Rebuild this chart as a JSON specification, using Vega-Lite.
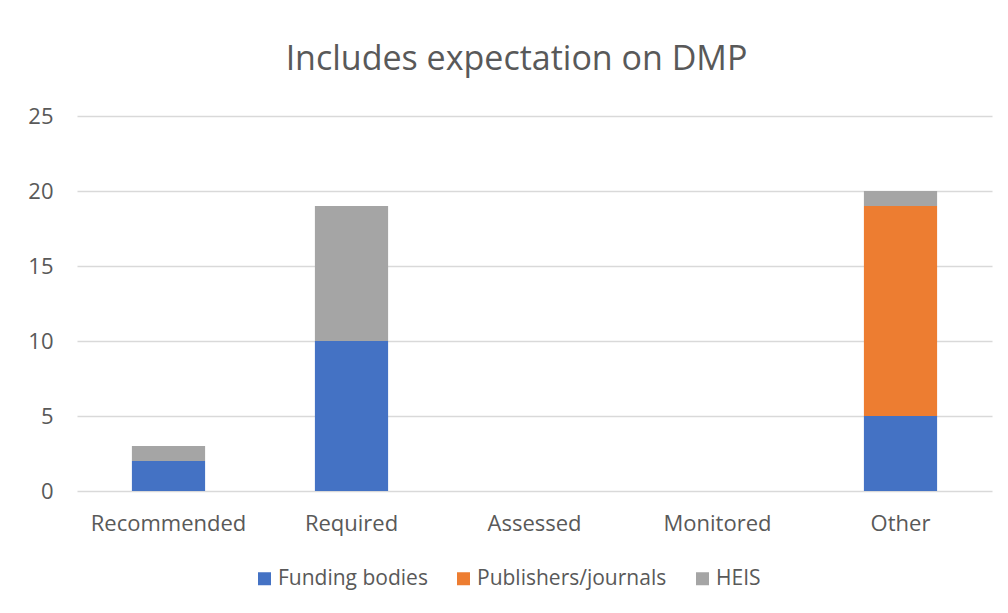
{
  "$schema": "https://vega.github.io/schema/vega-lite/v6.json",
  "width": 915,
  "height": 375,
  "autosize": {"type": "none"},
  "padding": {"left": 77, "top": 116, "right": 16, "bottom": 122},
  "background": "white",
  "title": {
    "text": "Includes expectation on DMP",
    "font": "Open Sans",
    "fontSize": 34,
    "fontWeight": "normal",
    "color": "#595959",
    "anchor": "middle",
    "baseline": "alphabetic",
    "offset": 1,
    "dx": -18
  },
  "data": {
    "values": [
      {"category": "Recommended", "series": "Funding bodies", "rank": 1, "value": 2},
      {"category": "Recommended", "series": "HEIS", "rank": 3, "value": 1},
      {"category": "Required", "series": "Funding bodies", "rank": 1, "value": 10},
      {"category": "Required", "series": "HEIS", "rank": 3, "value": 9},
      {"category": "Other", "series": "Funding bodies", "rank": 1, "value": 5},
      {"category": "Other", "series": "Publishers/journals", "rank": 2, "value": 14},
      {"category": "Other", "series": "HEIS", "rank": 3, "value": 1}
    ]
  },
  "mark": {"type": "bar"},
  "encoding": {
    "x": {
      "field": "category",
      "type": "nominal",
      "scale": {
        "domain": ["Recommended", "Required", "Assessed", "Monitored", "Other"],
        "paddingInner": 0.6,
        "paddingOuter": 0.3
      },
      "axis": {
        "title": null,
        "labelAngle": 0,
        "ticks": false,
        "domain": false,
        "labelFont": "Open Sans",
        "labelFontSize": 22,
        "labelColor": "#595959",
        "labelPadding": 22
      }
    },
    "y": {
      "field": "value",
      "type": "quantitative",
      "stack": "zero",
      "scale": {"domain": [0, 25]},
      "axis": {
        "title": null,
        "values": [0, 5, 10, 15, 20, 25],
        "ticks": false,
        "domain": false,
        "grid": true,
        "gridColor": "#D9D9D9",
        "gridWidth": 1.5,
        "labelFont": "Open Sans",
        "labelFontSize": 22,
        "labelColor": "#595959",
        "labelPadding": 24
      }
    },
    "order": {"field": "rank", "type": "quantitative", "sort": "ascending"},
    "color": {
      "field": "series",
      "type": "nominal",
      "sort": ["Funding bodies", "Publishers/journals", "HEIS"],
      "scale": {
        "domain": ["Funding bodies", "Publishers/journals", "HEIS"],
        "range": ["#4472C4", "#ED7D31", "#A5A5A5"]
      },
      "legend": {
        "title": null,
        "orient": "none",
        "direction": "horizontal",
        "legendX": 177,
        "legendY": 452,
        "symbolType": "square",
        "symbolSize": 169,
        "symbolStrokeWidth": 0,
        "labelFont": "Open Sans",
        "labelFontSize": 21,
        "labelColor": "#595959",
        "labelOffset": 3,
        "labelLimit": 400,
        "columnPadding": 25
      }
    }
  },
  "config": {
    "view": {"stroke": null}
  }
}
